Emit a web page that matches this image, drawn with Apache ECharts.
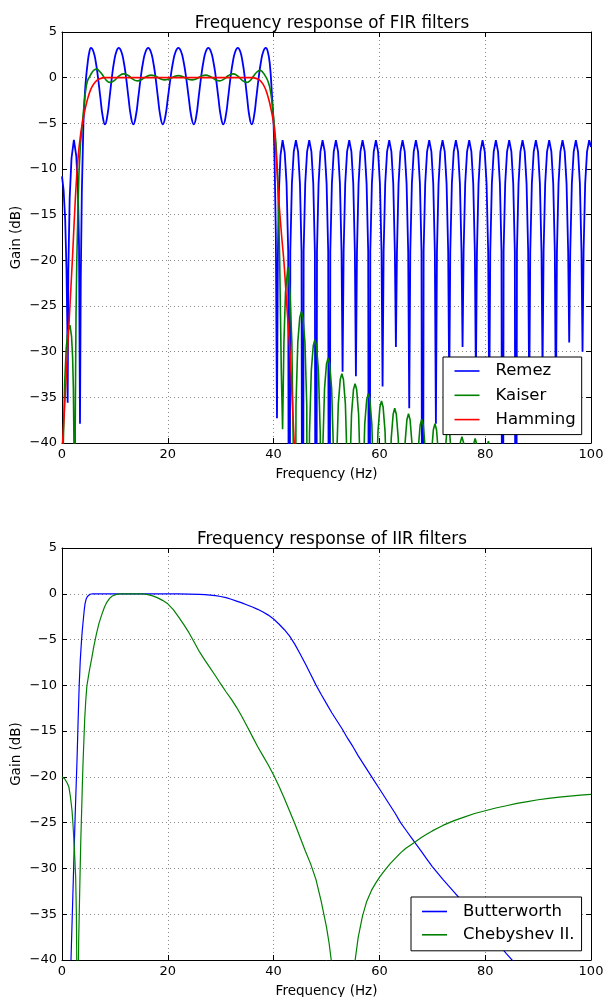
<!DOCTYPE html>
<html>
<head>
<meta charset="utf-8">
<script src="https://cdn.jsdelivr.net/npm/echarts/dist/echarts.min.js"></script>
<style>
html,body{margin:0;padding:0;background:#fff;}
#chart{width:604px;height:997px;}
</style>
</head>
<body>
<div id="chart"></div>
<script>
// ---------- names ----------
const firNames = ['Remez', 'Kaiser', 'Hamming'];
const iirNames = ['Butterworth', 'Chebyshev II.'];
const titles = ['Frequency response of FIR filters', 'Frequency response of IIR filters'];
const xAxisName = 'Frequency (Hz)';
const yAxisName = 'Gain (dB)';

// ---------- FIR: Remez (Hz, dB) ----------
const remezLeft = [
[0,-10.8],[0.3,-12.3],[0.6,-15.5],[0.85,-21],[1.0,-27],[1.07,-35.6],[1.2,-21],[1.45,-13.2],[1.8,-8.8],[2.25,-6.8],[2.7,-8.6],[3.0,-12],[3.22,-18.5],[3.4,-37.9],[3.55,-22],[3.75,-12.5],[4.05,-5]
];
const remezPassband = [
[4.05,-5],[4.3,-2],[4.55,0],[4.85,1.6],[5.15,2.75],
[5.48,3.26],[5.92,2.89],[6.36,1.80],[6.80,0.04],[7.25,-2.16],[7.69,-4.22],
[8.13,-5.11],[8.56,-4.22],[9.00,-2.16],[9.43,0.04],[9.86,1.80],[10.30,2.89],
[10.73,3.26],[11.19,2.89],[11.65,1.80],[12.11,0.04],[12.56,-2.16],[13.02,-4.22],
[13.48,-5.11],[13.95,-4.22],[14.42,-2.16],[14.89,0.04],[15.36,1.80],[15.83,2.89],
[16.30,3.26],[16.76,2.89],[17.22,1.80],[17.68,0.04],[18.13,-2.16],[18.59,-4.22],
[19.05,-5.11],[19.54,-4.22],[20.03,-2.16],[20.53,0.04],[21.02,1.80],[21.51,2.89],
[22.00,3.26],[22.49,2.89],[22.97,1.80],[23.46,0.04],[23.95,-2.16],[24.43,-4.22],
[24.92,-5.11],[25.38,-4.22],[25.83,-2.16],[26.29,0.04],[26.75,1.80],[27.20,2.89],
[27.66,3.26],[28.13,2.89],[28.60,1.80],[29.08,0.04],[29.55,-2.16],[30.02,-4.22],
[30.49,-5.11],[30.95,-4.22],[31.41,-2.16],[31.86,0.04],[32.32,1.80],[32.78,2.89],
[33.24,3.26],[33.68,2.89],[34.11,1.80],[34.55,0.04],[34.99,-2.16],[35.42,-4.22],
[35.86,-5.11],[36.30,-4.22],[36.74,-2.16],[37.19,0.04],[37.63,1.80],[38.07,2.89],
[38.51,3.26],[38.9,2.85],[39.3,1.4],[39.65,-1.5],[40.0,-5]
];
const remezStopband = [
[40.0,-5],[40.2,-9.5],[40.42,-17],[40.64,-37.3],
[40.8,-20],[41.0,-12.5],[41.3,-8.5],[41.7,-6.85],[42.1,-8.2],[42.45,-11.6],[42.76,-19],[42.96,-90],
[43.16,-19],[43.46,-11.6],[43.81,-8.1],[44.22,-6.85],[44.63,-8.1],[44.98,-11.6],[45.28,-19],[45.48,-90],
[45.68,-19],[45.98,-11.6],[46.33,-8.1],[46.74,-6.85],[47.15,-8.1],[47.50,-11.6],[47.80,-19],[48.00,-90],
[48.20,-19],[48.50,-11.6],[48.85,-8.1],[49.26,-6.85],[49.67,-8.1],[50.02,-11.6],[50.32,-19],[50.52,-90],
[50.72,-19],[51.02,-11.6],[51.37,-8.1],[51.78,-6.85],[52.19,-8.1],[52.54,-11.6],[52.84,-19],[53.04,-32.2],
[53.24,-19],[53.54,-11.6],[53.89,-8.1],[54.30,-6.85],[54.71,-8.1],[55.06,-11.6],[55.36,-19],[55.56,-32.7],
[55.76,-19],[56.06,-11.6],[56.41,-8.1],[56.82,-6.85],[57.23,-8.1],[57.58,-11.6],[57.88,-19],[58.08,-90],
[58.28,-19],[58.58,-11.6],[58.93,-8.1],[59.34,-6.85],[59.75,-8.1],[60.10,-11.6],[60.40,-19],[60.60,-33.8],
[60.80,-19],[61.10,-11.6],[61.45,-8.1],[61.86,-6.85],[62.27,-8.1],[62.62,-11.6],[62.92,-19],[63.12,-29.5],
[63.32,-19],[63.62,-11.6],[63.97,-8.1],[64.38,-6.85],[64.79,-8.1],[65.14,-11.6],[65.44,-19],[65.64,-36.2],
[65.84,-19],[66.14,-11.6],[66.49,-8.1],[66.90,-6.85],[67.31,-8.1],[67.66,-11.6],[67.96,-19],[68.16,-90],
[68.36,-19],[68.66,-11.6],[69.01,-8.1],[69.42,-6.85],[69.83,-8.1],[70.18,-11.6],[70.48,-19],[70.68,-37.9],
[70.88,-19],[71.18,-11.6],[71.53,-8.1],[71.94,-6.85],[72.35,-8.1],[72.70,-11.6],[73.00,-19],[73.20,-34],
[73.40,-19],[73.70,-11.6],[74.05,-8.1],[74.46,-6.85],[74.87,-8.1],[75.22,-11.6],[75.52,-19],[75.72,-29.5],
[75.92,-19],[76.22,-11.6],[76.57,-8.1],[76.98,-6.85],[77.39,-8.1],[77.74,-11.6],[78.04,-19],[78.24,-33],
[78.44,-19],[78.74,-11.6],[79.09,-8.1],[79.50,-6.85],[79.91,-8.1],[80.26,-11.6],[80.56,-19],[80.76,-36],
[80.96,-19],[81.26,-11.6],[81.61,-8.1],[82.02,-6.85],[82.43,-8.1],[82.78,-11.6],[83.08,-19],[83.28,-90],
[83.48,-19],[83.78,-11.6],[84.13,-8.1],[84.54,-6.85],[84.95,-8.1],[85.30,-11.6],[85.60,-19],[85.80,-90],
[86.00,-19],[86.30,-11.6],[86.65,-8.1],[87.06,-6.85],[87.47,-8.1],[87.82,-11.6],[88.12,-19],[88.32,-35],
[88.52,-19],[88.82,-11.6],[89.17,-8.1],[89.58,-6.85],[89.99,-8.1],[90.34,-11.6],[90.64,-19],[90.84,-32],
[91.04,-19],[91.34,-11.6],[91.69,-8.1],[92.10,-6.85],[92.51,-8.1],[92.86,-11.6],[93.16,-19],[93.36,-37],
[93.56,-19],[93.86,-11.6],[94.21,-8.1],[94.62,-6.85],[95.03,-8.1],[95.38,-11.6],[95.68,-19],[95.88,-29.0],
[96.08,-19],[96.38,-11.6],[96.73,-8.1],[97.14,-6.85],[97.55,-8.1],[97.90,-11.6],[98.20,-19],[98.40,-30.0],
[98.60,-19],[98.90,-11.6],[99.25,-8.1],[99.66,-6.85],[100,-7.6]
];

// ---------- FIR: Kaiser ----------
const kaiserLeft = [
[0,-44],[0.25,-40],[0.5,-33.5],[0.8,-29.6],[1.1,-27.8],[1.5,-27.1],[1.8,-28.3],[2.0,-30.5],[2.15,-34],[2.28,-41],[2.38,-70],[2.5,-38],[2.65,-26],[2.8,-20],[3.0,-14.8],[3.2,-10.5],[3.5,-7.2],[3.85,-5]
];
const kaiserPassband = [
[3.85,-5],[4.2,-2.8],[4.5,-1.3],[4.8,-0.4],[5.2,0.1],[5.7,0.6],[6.1,0.85],[6.55,0.93],[7.0,0.75],[7.5,0.42],[8.0,0.0],[8.5,-0.35],
[9.08,-0.52],[9.94,-0.29],[10.80,0.19],[11.67,0.42],[12.53,0.23],[13.39,-0.16],[14.25,-0.35],[15.11,-0.19],[15.97,0.12],[16.83,0.28],[17.69,0.15],[18.56,-0.11],[19.42,-0.24],[20.28,-0.13],[21.14,0.11],[22.0,0.22],[22.86,0.11],[23.72,-0.13],[24.58,-0.24],[25.44,-0.11],[26.31,0.15],[27.17,0.28],[28.03,0.12],[28.89,-0.19],[29.75,-0.35],[30.61,-0.16],[31.47,0.23],[32.33,0.42],[33.19,0.19],[34.06,-0.29],[34.92,-0.52],
[35.5,-0.35],[36.0,0.0],[36.5,0.4],[37.0,0.7],[37.45,0.8],[37.9,0.62],[38.3,0.3],[38.8,-0.2],[39.2,-0.9],[39.5,-1.8],[39.8,-3.2],[40.1,-5]
];
const kaiserStopband = [
[40.1,-5],[40.45,-7.2],[40.75,-10.5],[40.95,-14.8],[41.15,-20],[41.3,-26],[41.45,-32],[41.7,-38.5],
[41.95,-29],[42.25,-23.5],[42.7,-20.7],[43.1,-23.5],[43.45,-29],[43.75,-42],[43.97,-90],
[44.23,-35.9],[44.58,-28.95],[44.95,-26.25],[45.25,-25.6],[45.55,-26.25],[45.92,-28.95],[46.27,-35.9],[46.52,-90],
[46.78,-39.0],[47.13,-32.05],[47.5,-29.35],[47.8,-28.7],[48.1,-29.35],[48.47,-32.05],[48.82,-39.0],[49.05,-90],
[49.28,-41.0],[49.63,-34.05],[50.0,-31.35],[50.3,-30.7],[50.6,-31.35],[50.97,-34.05],[51.32,-41.0],[51.6,-90],
[51.88,-42.7],[52.23,-35.75],[52.6,-33.05],[52.9,-32.4],[53.2,-33.05],[53.57,-35.75],[53.92,-42.7],[54.15,-90],
[54.38,-43.8],[54.73,-36.85],[55.1,-34.15],[55.4,-33.5],[55.7,-34.15],[56.07,-36.85],[56.42,-43.8],[56.65,-90],
[56.88,-44.9],[57.23,-37.95],[57.6,-35.25],[57.9,-34.6],[58.2,-35.25],[58.57,-37.95],[58.92,-44.9],[59.15,-90],
[59.38,-45.7],[59.73,-38.75],[60.1,-36.05],[60.4,-35.4],[60.7,-36.05],[61.07,-38.75],[61.42,-45.7],[61.65,-90],
[61.88,-46.5],[62.23,-39.55],[62.6,-36.85],[62.9,-36.2],[63.2,-36.85],[63.57,-39.55],[63.92,-46.5],[64.2,-90],
[64.48,-47.1],[64.83,-40.15],[65.2,-37.45],[65.5,-36.8],[65.8,-37.45],[66.17,-40.15],[66.52,-47.1],[66.75,-90],
[66.98,-47.7],[67.33,-40.75],[67.7,-38.05],[68.0,-37.4],[68.3,-38.05],[68.67,-40.75],[69.02,-47.7],[69.25,-90],
[69.48,-48.2],[69.83,-41.25],[70.2,-38.55],[70.5,-37.9],[70.8,-38.55],[71.17,-41.25],[71.52,-48.2],[71.75,-90],
[71.98,-48.7],[72.33,-41.75],[72.7,-39.05],[73.0,-38.4],[73.3,-39.05],[73.67,-41.75],[74.02,-48.7],[74.3,-90],
[74.58,-49.2],[74.93,-42.25],[75.3,-39.95],[75.6,-39.3],[75.9,-39.95],[76.27,-42.25],[76.62,-49.2],[76.85,-90],
[77.08,-49.6],[77.43,-42.65],[77.8,-40.15],[78.1,-39.5],[78.4,-40.15],[78.77,-42.65],[79.12,-49.6],[79.35,-90],
[79.58,-49.9],[79.93,-42.95],[80.3,-40.45],[80.6,-39.8],[80.9,-40.45],[81.27,-42.95],[81.62,-49.9],[81.85,-90],
[83.1,-40.4],[84.4,-90],[85.7,-40.7],[86.95,-90],[88.2,-41.0],[89.45,-90],[90.7,-41.3],[91.95,-90],
[93.2,-41.5],[94.5,-90],[95.8,-41.7],[97.05,-90],[98.3,-41.9],[99.55,-90],[100,-50]
];

// ---------- FIR: Hamming ----------
const hammingData = [
[0,-41],[0.5,-36],[1.0,-30.5],[1.5,-25],[2.0,-19.5],[2.5,-13.5],[3.0,-9.0],[3.5,-6.3],[4.0,-4.5],[4.5,-3.1],[5.0,-2.0],[5.5,-1.2],[6.0,-0.7],[6.5,-0.35],[7.0,-0.15],[7.5,-0.05],[8.0,0],
[12,0],[16,0],[20,0],[24,0],[28,0],[32,0],[36,0],[36.5,-0.05],[37,-0.15],[37.5,-0.35],[38,-0.7],[38.5,-1.3],[39,-2.2],[39.5,-3.4],[40,-5],[40.3,-7],[40.6,-9.8],[41,-13.5],[41.5,-17.2],[42,-20.5],[42.5,-25],[43.1,-30],[43.5,-35],[43.9,-40],[44.3,-46],[45,-52],[50,-54],[60,-56],[70,-58],[80,-60],[90,-62],[100,-63]
];

// ---------- IIR: Butterworth ----------
const butterData = [
[1.2,-52],[1.5,-44],[1.7,-40],[2.0,-34],[2.2,-30],[2.5,-24],[2.85,-18],[3.05,-13.8],[3.25,-10],[3.45,-7.3],[3.7,-5],[3.85,-3.9],[4.0,-3],[4.2,-1.8],[4.35,-1.1],[4.55,-0.6],[4.8,-0.3],[5.05,-0.13],[5.3,-0.05],[5.8,0],
[10,0],[15,0],[20,0],[22,-0.01],[24,-0.03],[26,-0.07],[27,-0.1],[28,-0.15],[29,-0.21],[30,-0.3],[31,-0.42],[32,-0.6],[33,-0.8],[34,-1.0],[35,-1.22],[36,-1.45],[37,-1.7],[38,-2.0],[39,-2.33],[40,-2.75],[41,-3.3],[42,-3.9],[43,-4.6],[44,-5.5],[45,-6.55],[46,-7.65],[47,-8.8],[48,-9.95],[49,-11.0],[50,-12.0],[51,-13.0],[52,-13.9],[53,-14.8],[54,-15.8],[55,-16.7],[56,-17.7],[57,-18.6],[58,-19.5],[59,-20.4],[60,-21.3],[61,-22.2],[62,-23.1],[63,-24.0],[64,-25.0],[65,-25.8],[66,-26.6],[67,-27.4],[68,-28.2],[69,-29.0],[70,-29.8],[72,-31.2],[74,-32.5],[76,-33.8],[78,-35.1],[80,-36.5],[82,-37.9],[84,-39.3],[86,-40.6],[90,-43.3],[95,-46.3],[100,-49]
];

// ---------- IIR: Chebyshev II ----------
const chebyData = [
[0,-20],[0.5,-20.2],[1.0,-20.7],[1.3,-21.1],[1.6,-22.2],[1.9,-23.7],[2.1,-25.4],[2.35,-28],[2.58,-30.9],[2.72,-35],[2.82,-42],[2.92,-70],[3.02,-45],[3.15,-38],[3.4,-31],[3.55,-27],[3.72,-23.6],[3.85,-20.8],[3.97,-18.6],[4.15,-15.8],[4.3,-13.6],[4.5,-11.6],[4.7,-10.1],[5.0,-9.0],[5.3,-8.0],[5.6,-7.1],[6.0,-5.8],[6.5,-4.4],[7.0,-3.2],[7.5,-2.3],[8.0,-1.5],[8.4,-1.0],[9.0,-0.5],[9.5,-0.25],[10.3,-0.06],[11,0],
[15,0],[16,-0.06],[17,-0.2],[18,-0.42],[19,-0.72],[20,-1.1],[21,-1.7],[22,-2.5],[23,-3.35],[24,-4.25],[25,-5.3],[26,-6.35],[27,-7.25],[28,-8.1],[29,-8.95],[30,-9.85],[31,-10.7],[32,-11.5],[33,-12.4],[34,-13.4],[35,-14.5],[36,-15.6],[37,-16.7],[38,-17.7],[39,-18.7],[40,-19.8],[41,-21.0],[42,-22.3],[43,-23.7],[44,-25.1],[45,-26.6],[46,-28.1],[47,-29.5],[48,-31.2],[49,-33.6],[50,-36.4],[50.5,-38.2],[51,-40.5],[52,-47],[53.2,-80],
[54.4,-48],[55.3,-40.5],[56.0,-37.5],[56.8,-35.2],[57.6,-33.6],[58.5,-32.4],[59.3,-31.6],[60.1,-30.9],[61,-30.2],[62,-29.5],[63,-28.9],[64,-28.3],[65,-27.8],[66,-27.4],[67,-27.0],[68,-26.6],[69,-26.25],[70,-25.9],[72,-25.3],[74,-24.8],[76,-24.4],[78,-24.0],[80,-23.7],[82,-23.4],[84,-23.15],[86,-22.9],[88,-22.7],[90,-22.5],[92,-22.35],[94,-22.2],[96,-22.1],[98,-22.0],[100,-21.9]
];

// ---------- axes ranges ----------
const xRange = {min: 0, max: 100, interval: 20};
const yRange = {min: -40, max: 5, interval: 5};

const FONT = 'DejaVu Sans';
const fmt = v => String(v).replace('-', '\u2212');

function xAx(grid, showLabels) {
  return {
    type: 'value', gridIndex: grid, min: xRange.min, max: xRange.max, interval: xRange.interval,
    position: showLabels ? 'bottom' : 'top',
    name: showLabels ? xAxisName : '', nameLocation: 'middle', nameGap: 24, nameMoveOverlap: false,
    nameTextStyle: {fontFamily: FONT, fontSize: 13.5, color: '#000'},
    axisLine: {show: true, onZero: false, lineStyle: {color: '#000', width: 1}},
    axisTick: {show: true, inside: true, length: 5, lineStyle: {color: '#000'}},
    axisLabel: {show: showLabels, margin: 5, fontFamily: FONT, fontSize: 13, color: '#000', formatter: fmt},
    splitLine: {show: showLabels, lineStyle: {color: '#8a8a8a', width: 1, type: [1, 3]}}
  };
}
function yAx(grid, showLabels) {
  return {
    type: 'value', gridIndex: grid, min: yRange.min, max: yRange.max, interval: yRange.interval,
    position: showLabels ? 'left' : 'right',
    name: showLabels ? yAxisName : '', nameLocation: 'middle', nameGap: 39, nameRotate: 90, nameMoveOverlap: false,
    nameTextStyle: {fontFamily: FONT, fontSize: 13.5, color: '#000'},
    axisLine: {show: true, onZero: false, lineStyle: {color: '#000', width: 1}},
    axisTick: {show: true, inside: true, length: 5, lineStyle: {color: '#000'}},
    axisLabel: {show: showLabels, margin: 5, fontFamily: FONT, fontSize: 13, color: '#000', formatter: fmt},
    splitLine: {show: showLabels, lineStyle: {color: '#8a8a8a', width: 1, type: [1, 3]}}
  };
}
function line(name, data, color, xi, yi, w, smooth) {
  return {
    type: 'line', name: name, data: data, xAxisIndex: xi, yAxisIndex: yi,
    symbol: 'none', showSymbol: false, color: color, clip: true, smooth: smooth || false,
    lineStyle: {color: color, width: w}, itemStyle: {color: color},
    emphasis: {disabled: true}, animation: false
  };
}
function legendBox(names, left, top, gap, pad) {
  return {
    data: names, orient: 'vertical', left: left, top: top,
    icon: 'rect', itemWidth: 25, itemHeight: 1.6, itemGap: gap,
    padding: pad, backgroundColor: '#fff', borderColor: '#000', borderWidth: 1, borderRadius: 0,
    selectedMode: false,
    textStyle: {fontFamily: FONT, fontSize: 16.5, color: '#000', lineHeight: 18, padding: [0, 0, 0, 11]}
  };
}

const chart = echarts.init(document.getElementById('chart'), null, {renderer: 'canvas'});
chart.setOption({
  animation: false,
  backgroundColor: '#fff',
  title: [
    {text: titles[0], left: 327, top: 10, textAlign: 'center',
     textStyle: {fontFamily: FONT, fontSize: 16.8, fontWeight: 'normal', color: '#000'}},
    {text: titles[1], left: 327, top: 526, textAlign: 'center',
     textStyle: {fontFamily: FONT, fontSize: 16.8, fontWeight: 'normal', color: '#000'}}
  ],
  grid: [
    {left: 62, top: 32, width: 529, height: 411, containLabel: false, outerBoundsMode: 'none'},
    {left: 62, top: 548, width: 529, height: 412, containLabel: false, outerBoundsMode: 'none'}
  ],
  xAxis: [xAx(0, true), xAx(0, false), xAx(1, true), xAx(1, false)],
  yAxis: [yAx(0, true), yAx(0, false), yAx(1, true), yAx(1, false)],
  legend: [
    legendBox(firNames, 443, 357, 6.3, [5, 6, 6, 11.5]),
    legendBox(iirNames, 411, 897, 5.3, [5.5, 7, 7, 11])
  ],
  series: [
    line(firNames[0], remezLeft, '#0000ff', 0, 0, 1.8, false),
    line(firNames[0], remezPassband, '#0000ff', 0, 0, 1.8, 0.5),
    line(firNames[0], remezStopband, '#0000ff', 0, 0, 1.8, false),
    line(firNames[1], kaiserLeft, '#008000', 0, 0, 1.6, false),
    line(firNames[1], kaiserPassband, '#008000', 0, 0, 1.6, 0.5),
    line(firNames[1], kaiserStopband, '#008000', 0, 0, 1.6, false),
    line(firNames[2], hammingData, '#ff0000', 0, 0, 1.6, 0.3),
    line(iirNames[0], butterData, '#0000ff', 2, 2, 1.2, false),
    line(iirNames[1], chebyData, '#008000', 2, 2, 1.2, false)
  ]
});
</script>
</body>
</html>
